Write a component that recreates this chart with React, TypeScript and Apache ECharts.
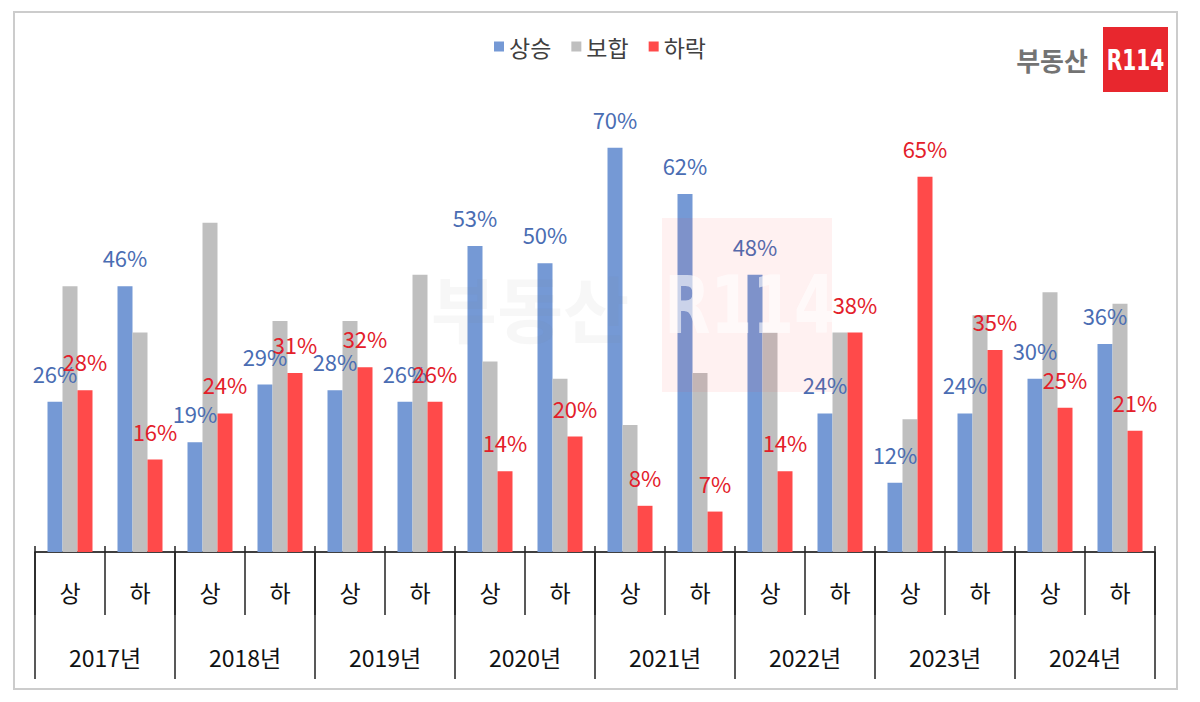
import React, { useEffect, useRef } from "react";
import * as echarts from "echarts";

// 반기 구분 (상반기 / 하반기) 과 연도
const halves = ["상", "하", "상", "하", "상", "하", "상", "하", "상", "하", "상", "하", "상", "하", "상", "하"];
const years = ["2017년", "2018년", "2019년", "2020년", "2021년", "2022년", "2023년", "2024년"];

// 비중 (%)
const rise = [26, 46, 19, 29, 28, 26, 53, 50, 70, 62, 48, 24, 12, 24, 30, 36];
const flat = [46, 38, 57, 40, 40, 48, 33, 30, 22, 31, 38, 38, 23, 41, 45, 43];
const fall = [28, 16, 24, 31, 32, 26, 14, 20, 8, 7, 14, 38, 65, 35, 25, 21];

const seriesNames = ["상승", "보합", "하락"];

const FONT = "'Noto Sans CJK KR', 'Noto Sans', sans-serif";
const LOGO_FONT = "'DejaVu Sans', sans-serif";

export default function App() {
  const ref = useRef<HTMLDivElement>(null);

  useEffect(() => {
    if (!ref.current) return;
    const chart = echarts.init(ref.current, undefined, { renderer: "svg" });

    const label = (color: string) => ({
      show: true,
      position: "top" as const,
      distance: 18,
      formatter: "{c}%",
      color,
      fontSize: 22,
      fontFamily: FONT,
    });

    chart.setOption({
      animation: false,
      backgroundColor: "#ffffff",
      grid: { left: 35, right: 45, top: 90, bottom: 150 },
      legend: {
        top: 30,
        left: "center",
        itemWidth: 10,
        itemHeight: 10,
        itemGap: 20,
        icon: "rect",
        textStyle: { fontSize: 23, color: "#404040", fontFamily: FONT },
        data: seriesNames,
      },
      xAxis: [
        {
          type: "category",
          data: halves,
          position: "bottom",
          axisLine: { show: true, lineStyle: { color: "#000000", width: 1.5 } },
          axisTick: { show: true, length: 63, lineStyle: { color: "#222222", width: 1.5 } },
          axisLabel: { margin: 28, fontSize: 23, color: "#111111", fontFamily: FONT },
        },
        {
          type: "category",
          data: years,
          position: "bottom",
          axisLine: { show: false },
          axisTick: { show: true, length: 127, lineStyle: { color: "#222222", width: 1.5 } },
          axisLabel: { margin: 93, fontSize: 23, color: "#111111", fontFamily: FONT },
        },
        {
          type: "category",
          data: halves,
          position: "bottom",
          axisLine: { show: false },
          axisTick: { show: true, inside: true, length: 6, lineStyle: { color: "#222222", width: 1.5 } },
          axisLabel: { show: false },
        },
      ],
      yAxis: {
        type: "value",
        min: 0,
        max: 80,
        show: false,
        splitLine: { show: false },
      },
      series: [
        {
          name: seriesNames[0],
          type: "bar",
          data: rise,
          barWidth: 15,
          barGap: "0%",
          itemStyle: { color: "#7599d5" },
          label: label("#4a6db3"),
        },
        {
          name: seriesNames[1],
          type: "bar",
          data: flat,
          barWidth: 15,
          barGap: "0%",
          itemStyle: { color: "#bfbfbf" },
        },
        {
          name: seriesNames[2],
          type: "bar",
          data: fall,
          barWidth: 15,
          barGap: "0%",
          itemStyle: { color: "#ff4a4a" },
          label: label("#e3202a"),
        },
      ],
      graphic: [
        // 바깥 테두리
        {
          type: "rect",
          shape: { x: 14, y: 12, width: 1163, height: 677 },
          style: { fill: "none", stroke: "#cccccc", lineWidth: 2 },
          z: 0,
        },
        // 로고
        {
          type: "text",
          x: 1052,
          y: 59,
          style: {
            text: "부동산",
            fill: "#737373",
            font: `bold 26px ${FONT}`,
            align: "center",
            verticalAlign: "middle",
          },
        },
        {
          type: "rect",
          shape: { x: 1103, y: 27, width: 65, height: 65 },
          style: { fill: "#e8272e" },
        },
        {
          type: "text",
          x: 1135.5,
          y: 60,
          scaleX: 0.72,
          style: {
            text: "R114",
            fill: "#ffffff",
            font: `bold 28px ${LOGO_FONT}`,
            align: "center",
            verticalAlign: "middle",
          },
        },
        // 워터마크
        {
          type: "text",
          x: 530,
          y: 305,
          z: 100,
          style: {
            text: "부동산",
            fill: "rgba(120,120,120,0.06)",
            font: `bold 72px ${FONT}`,
            align: "center",
            verticalAlign: "middle",
          },
        },
        {
          type: "rect",
          z: 100,
          shape: { x: 662, y: 218, width: 170, height: 174 },
          style: { fill: "rgba(255,60,60,0.07)" },
        },
        {
          type: "text",
          x: 750,
          y: 305,
          z: 101,
          scaleX: 0.75,
          style: {
            text: "R114",
            fill: "rgba(255,255,255,0.6)",
            font: `bold 80px ${LOGO_FONT}`,
            align: "center",
            verticalAlign: "middle",
          },
        },
      ],
    });

    return () => chart.dispose();
  }, []);

  return (
    <div
      ref={ref}
      style={{ position: "fixed", left: 0, top: 0, width: 1200, height: 702, background: "#ffffff" }}
    />
  );
}
